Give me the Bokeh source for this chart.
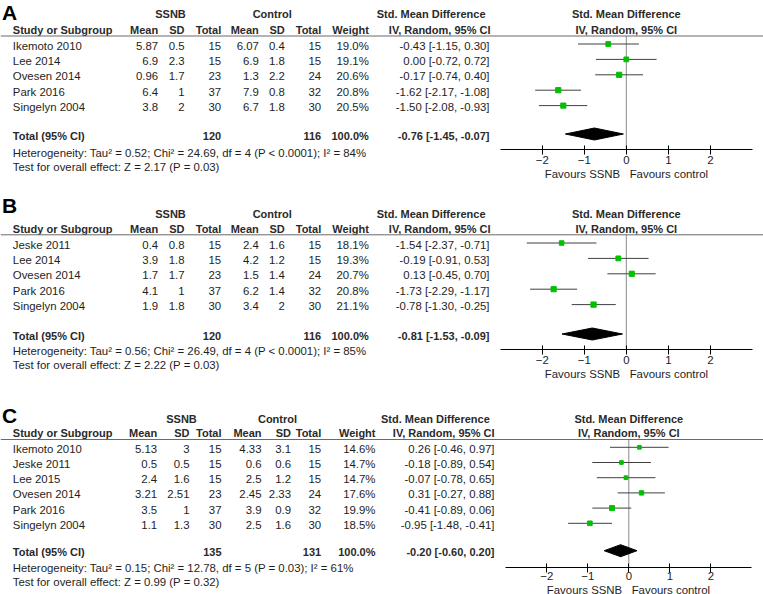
from bokeh.plotting import figure
from bokeh.layouts import column
from bokeh.models import Range1d, FixedTicker, Span
from bokeh.core.properties import value
from bokeh.embed import file_html
from bokeh.resources import INLINE

# ---------------- data ----------------
# Panel A
study_a = ["Ikemoto 2010", "Lee 2014", "Ovesen 2014", "Park 2016", "Singelyn 2004"]
ssnb_mean_a = [5.87, 6.9, 0.96, 6.4, 3.8]
ssnb_sd_a = [0.5, 2.3, 1.7, 1, 2]
ssnb_n_a = [15, 15, 23, 37, 30]
ctrl_mean_a = [6.07, 6.9, 1.3, 7.9, 6.7]
ctrl_sd_a = [0.4, 1.8, 2.2, 0.8, 1.8]
ctrl_n_a = [15, 15, 24, 32, 30]
weight_a = [19.0, 19.1, 20.6, 20.8, 20.5]
smd_a = [-0.43, 0.00, -0.17, -1.62, -1.50]
ci_lo_a = [-1.15, -0.72, -0.74, -2.17, -2.08]
ci_hi_a = [0.30, 0.72, 0.40, -1.08, -0.93]

# Panel B
study_b = ["Jeske 2011", "Lee 2014", "Ovesen 2014", "Park 2016", "Singelyn 2004"]
ssnb_mean_b = [0.4, 3.9, 1.7, 4.1, 1.9]
ssnb_sd_b = [0.8, 1.8, 1.7, 1, 1.8]
ssnb_n_b = [15, 15, 23, 37, 30]
ctrl_mean_b = [2.4, 4.2, 1.5, 6.2, 3.4]
ctrl_sd_b = [1.6, 1.2, 1.4, 1.4, 2]
ctrl_n_b = [15, 15, 24, 32, 30]
weight_b = [18.1, 19.3, 20.7, 20.8, 21.1]
smd_b = [-1.54, -0.19, 0.13, -1.73, -0.78]
ci_lo_b = [-2.37, -0.91, -0.45, -2.29, -1.30]
ci_hi_b = [-0.71, 0.53, 0.70, -1.17, -0.25]

# Panel C
study_c = ["Ikemoto 2010", "Jeske 2011", "Lee 2015", "Ovesen 2014", "Park 2016", "Singelyn 2004"]
ssnb_mean_c = [5.13, 0.5, 2.4, 3.21, 3.5, 1.1]
ssnb_sd_c = [3, 0.5, 1.6, 2.51, 1, 1.3]
ssnb_n_c = [15, 15, 15, 23, 37, 30]
ctrl_mean_c = [4.33, 0.6, 2.5, 2.45, 3.9, 2.5]
ctrl_sd_c = [3.1, 0.6, 1.2, 2.33, 0.9, 1.6]
ctrl_n_c = [15, 15, 15, 24, 32, 30]
weight_c = [14.6, 14.7, 14.7, 17.6, 19.9, 18.5]
smd_c = [0.26, -0.18, -0.07, 0.31, -0.41, -0.95]
ci_lo_c = [-0.46, -0.89, -0.78, -0.27, -0.89, -1.48]
ci_hi_c = [0.97, 0.54, 0.65, 0.88, 0.06, -0.41]

# Totals and statistics (A, B, C)
panel_letters = ["A", "B", "C"]
total_ssnb = [120, 120, 135]
total_ctrl = [116, 116, 131]
total_weight = [100.0, 100.0, 100.0]
pooled_smd = [-0.76, -0.81, -0.20]
pooled_lo = [-1.45, -1.53, -0.60]
pooled_hi = [-0.07, -0.09, 0.20]
tau2 = [0.52, 0.56, 0.15]
chi2 = [24.69, 26.49, 12.78]
het_df = [4, 4, 5]
het_p = ["< 0.0001", "< 0.0001", "= 0.03"]
i2 = [84, 85, 61]
z_val = [2.17, 2.22, 0.99]
z_p = [0.03, 0.03, 0.32]

group_labels = ["SSNB", "Control"]
col_headers = ["Mean", "SD", "Total", "Mean", "SD", "Total", "Weight"]
smd_header = ["Std. Mean Difference", "IV, Random, 95% CI"]
axis_ticks = [-2, -1, 0, 1, 2]
axis_limits = (-3, 3)
null_effect = 0
favours_label = "Favours SSNB\u00a0\u00a0\u00a0Favours control"

# ---------------- style / layout ----------------
FONT = "Liberation Sans"
REG = "11.4px"
BOLD = "11px"
INK = "#1e1e1e"
HEAD = "#2a2a2a"
GREEN = "#00c000"
CI_COL = "#404040"
RULE_COL = "#6a6a6a"
ZERO_COL = "#8a8a8a"

W = 763
MARK_DY = -1.5
SQUARE_SCALE = 0.25
DIAMOND_HALF = 6

COLS_AB = dict(name=12.3, m1=157.7, s1=184, n1=220.7, m2=258.3, s2=284.3, n2=320.7,
               w=368.3, smd=489, g1=170, g2=271.7, h1=485, h2=490)
COLS_C = dict(name=12.3, m1=156.7, s1=189, n1=221, m2=261, s2=290.5, n2=320.7,
              w=375, smd=494, g1=181, g2=277, h1=489.3, h2=494)

GEOM = [
    dict(top=0, bottom=190, letter_x=1.5, letter_y=11.5, hdr1=13.5, hdr2=29, rule=35.5, r0=45,
         pitch=15.4, total=135, het=152.7, test=166, axis=149.3, zero_x=625.8, ppu=42,
         lab_so=1, ax_so=1, cols=COLS_AB),
    dict(top=190, bottom=385, letter_x=1.5, letter_y=204.5, hdr1=213.3, hdr2=228.3, rule=234.3,
         r0=244, pitch=15.4, total=335, het=350.7, test=364, axis=349, zero_x=625.8, ppu=42,
         lab_so=1, ax_so=1, cols=COLS_AB),
    dict(top=385, bottom=594, letter_x=1.5, letter_y=415, hdr1=418.3, hdr2=432.7, rule=439,
         r0=448.3, pitch=15.2, total=551.7, het=567.7, test=581.7, axis=566.7, zero_x=628.3,
         ppu=41, lab_so=0, ax_so=0, cols=COLS_C),
]

PANEL_DATA = [
    (study_a, ssnb_mean_a, ssnb_sd_a, ssnb_n_a, ctrl_mean_a, ctrl_sd_a, ctrl_n_a, weight_a, smd_a, ci_lo_a, ci_hi_a),
    (study_b, ssnb_mean_b, ssnb_sd_b, ssnb_n_b, ctrl_mean_b, ctrl_sd_b, ctrl_n_b, weight_b, smd_b, ci_lo_b, ci_hi_b),
    (study_c, ssnb_mean_c, ssnb_sd_c, ssnb_n_c, ctrl_mean_c, ctrl_sd_c, ctrl_n_c, weight_c, smd_c, ci_lo_c, ci_hi_c),
]


def g(v):
    return f"{v:g}"


def ci_text(m, lo, hi):
    return f"{m:.2f} [{lo:.2f}, {hi:.2f}]"


def put(p, x, y, text, align="right", bold=False, size=None, color=None,
        baseline="middle", tab=True):
    kw = dict(x_range_name="tab") if tab else {}
    p.text(x=x, y=y, text=text, text_font=value(FONT),
           text_font_size=size or (BOLD if bold else REG),
           text_font_style="bold" if bold else "normal",
           text_align=align, text_baseline=baseline,
           text_color=color or (HEAD if bold else INK), **kw)


figs = []
for k, (geo, dat) in enumerate(zip(GEOM, PANEL_DATA)):
    studies, m1, s1, n1, m2, s2, n2, wt, est, lo, hi = dat
    c = geo["cols"]
    top, bottom = geo["top"], geo["bottom"]
    zx, ppu = geo["zero_x"], geo["ppu"]
    ys = [geo["r0"] + i * geo["pitch"] for i in range(len(studies))]

    p = figure(width=W, height=bottom - top, output_backend="svg", toolbar_location=None,
               x_range=Range1d((0 - zx) / ppu, (W - zx) / ppu),
               y_range=Range1d(bottom, top), y_axis_type=None,
               outline_line_color=None, background_fill_color="white",
               border_fill_color="white", min_border=0)
    p.extra_x_ranges = {"tab": Range1d(0, W)}
    p.grid.visible = False

    # ---------- table ----------
    put(p, geo["letter_x"], geo["letter_y"], [panel_letters[k]], align="left", bold=True,
        size="21px", color="black")
    put(p, c["g1"], geo["hdr1"], [group_labels[0]], align="center", bold=True)
    put(p, c["g2"], geo["hdr1"], [group_labels[1]], align="center", bold=True)
    put(p, c["h1"], geo["hdr1"], [smd_header[0]], bold=True)
    put(p, c["name"], geo["hdr2"], ["Study or Subgroup"], align="left", bold=True)
    for key, lab in zip(["m1", "s1", "n1", "m2", "s2", "n2", "w"], col_headers):
        put(p, c[key], geo["hdr2"], [lab], bold=True)
    put(p, c["h2"], geo["hdr2"], [smd_header[1]], bold=True)
    p.add_layout(Span(location=geo["rule"], dimension="width", line_color=RULE_COL, line_width=1))

    put(p, c["name"], ys, studies, align="left")
    put(p, c["m1"], ys, [g(v) for v in m1])
    put(p, c["s1"], ys, [g(v) for v in s1])
    put(p, c["n1"], ys, [str(v) for v in n1])
    put(p, c["m2"], ys, [g(v) for v in m2])
    put(p, c["s2"], ys, [g(v) for v in s2])
    put(p, c["n2"], ys, [str(v) for v in n2])
    put(p, c["w"], ys, [f"{v:.1f}%" for v in wt])
    put(p, c["smd"], ys, [ci_text(a, b, d) for a, b, d in zip(est, lo, hi)])

    put(p, c["name"], geo["total"], ["Total (95% CI)"], align="left", bold=True)
    put(p, c["n1"], geo["total"], [str(total_ssnb[k])], bold=True)
    put(p, c["n2"], geo["total"], [str(total_ctrl[k])], bold=True)
    put(p, c["w"], geo["total"], [f"{total_weight[k]:.1f}%"], bold=True)
    put(p, c["smd"], geo["total"], [ci_text(pooled_smd[k], pooled_lo[k], pooled_hi[k])], bold=True)
    het = (f"Heterogeneity: Tau\u00b2 = {tau2[k]:.2f}; Chi\u00b2 = {chi2[k]:.2f}, "
           f"df = {het_df[k]} (P {het_p[k]}); I\u00b2 = {i2[k]}%")
    put(p, c["name"], geo["het"], [het], align="left")
    put(p, c["name"], geo["test"], [f"Test for overall effect: Z = {z_val[k]:.2f} (P = {z_p[k]:.2f})"],
        align="left")

    # ---------- forest ----------
    put(p, null_effect, geo["hdr1"], [smd_header[0]], align="center", bold=True, tab=False)
    put(p, null_effect, geo["hdr2"], [smd_header[1]], align="center", bold=True, tab=False)
    p.segment(x0=null_effect, x1=null_effect, y0=geo["rule"], y1=geo["axis"],
              line_color=ZERO_COL, line_width=1)
    my = [y + MARK_DY for y in ys]
    p.segment(x0=lo, x1=hi, y0=my, y1=my, line_color=CI_COL, line_width=1)
    p.scatter(x=est, y=my, marker="square", size=[w * SQUARE_SCALE for w in wt],
              fill_color=GREEN, line_color=GREEN)
    ty = geo["total"] + MARK_DY
    p.patch(x=[pooled_lo[k], pooled_smd[k], pooled_hi[k], pooled_smd[k]],
            y=[ty, ty - DIAMOND_HALF, ty, ty + DIAMOND_HALF],
            fill_color="black", line_color="black")

    ax = p.xaxis[0]
    ax.fixed_location = geo["axis"]
    ax.ticker = FixedTicker(ticks=axis_ticks)
    ax.bounds = axis_limits
    ax.axis_line_color = "black"
    ax.major_tick_line_color = "black"
    ax.major_tick_in = 4
    ax.major_tick_out = 5
    ax.minor_tick_in = 0
    ax.minor_tick_out = 0
    ax.major_label_text_font = FONT
    ax.major_label_text_font_size = REG
    ax.major_label_text_color = INK
    ax.major_label_standoff = geo["lab_so"]
    ax.axis_label = favours_label
    ax.axis_label_text_font = FONT
    ax.axis_label_text_font_size = REG
    ax.axis_label_text_font_style = "normal"
    ax.axis_label_text_color = INK
    ax.axis_label_standoff = geo["ax_so"]

    figs.append(p)

layout = column(*figs, spacing=0)
open("out.html", "w").write(file_html(layout, INLINE))
